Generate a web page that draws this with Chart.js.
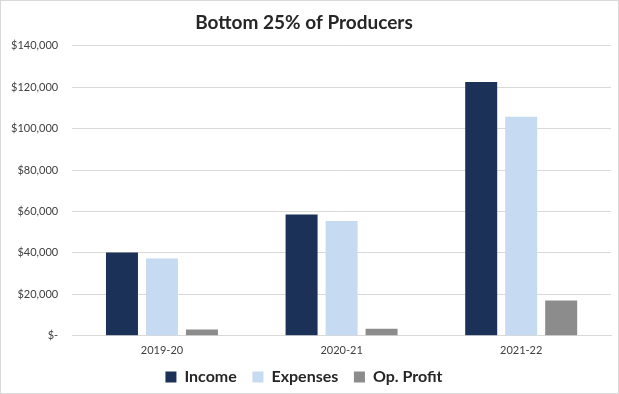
<!DOCTYPE html>
<html>
<head>
<meta charset="utf-8">
<script src="https://cdn.jsdelivr.net/npm/chart.js@4.4.0/dist/chart.umd.min.js"></script>
<style>
  html, body { margin: 0; padding: 0; background: #fff; }
  #wrap { position: relative; width: 617px; height: 392px; border: 1px solid #d9d9d9; }
</style>
</head>
<body>
<div id="wrap"><canvas id="chart"></canvas></div>
<script>
var categories = ["2019-20", "2020-21", "2021-22"];
var income = [40200, 58500, 122500];
var expenses = [37300, 55400, 105700];
var opProfit = [3100, 3400, 17000];

var textColor = "#404040";
var gridColor = "#d9d9d9";
var fontFamily = "Lato, 'Noto Sans', sans-serif";

function money(v) {
  if (v === 0) return "$-";
  return "$" + Number(v).toLocaleString("en-US");
}

// wider gaps between legend items without extra vertical padding
function legendLabels(chart) {
  var items = Chart.defaults.plugins.legend.labels.generateLabels(chart);
  items.forEach(function(it, i) {
    if (i < items.length - 1) it.text = it.text + "\u00a0\u00a0\u00a0";
  });
  return items;
}

new Chart(document.getElementById("chart").getContext("2d"), {
  type: "bar",
  data: {
    labels: categories,
    datasets: [
      { label: "Income", data: income, backgroundColor: "#1b3157" },
      { label: "Expenses", data: expenses, backgroundColor: "#c6daf1" },
      { label: "Op. Profit", data: opProfit, backgroundColor: "#8c8c8c" }
    ]
  },
  options: {
    responsive: true,
    maintainAspectRatio: false,
    animation: false,
    categoryPercentage: 0.668,
    barPercentage: 0.8,
    layout: { padding: { left: -4, right: 7, top: 4, bottom: -2 } },
    plugins: {
      title: {
        display: true,
        text: "Bottom 25% of Producers",
        color: "#262626",
        font: { family: fontFamily, size: 19, weight: "bold" },
        padding: { top: 6, bottom: 12 }
      },
      legend: {
        position: "bottom",
        labels: {
          color: "#262626",
          boxWidth: 11,
          boxHeight: 11,
          padding: 4,
          font: { family: fontFamily, size: 16, weight: "bold" },
          generateLabels: legendLabels
        }
      },
      tooltip: { enabled: false }
    },
    scales: {
      y: {
        min: 0,
        max: 140000,
        ticks: {
          stepSize: 20000,
          color: textColor,
          padding: 14,
          font: { family: fontFamily, size: 11 },
          callback: function(value) { return money(value); }
        },
        grid: { color: gridColor, drawTicks: false },
        border: { display: false }
      },
      x: {
        ticks: { color: textColor, padding: 8, font: { family: fontFamily, size: 11 } },
        grid: { display: false, drawTicks: false },
        border: { color: gridColor }
      }
    }
  }
});
</script>
</body>
</html>
